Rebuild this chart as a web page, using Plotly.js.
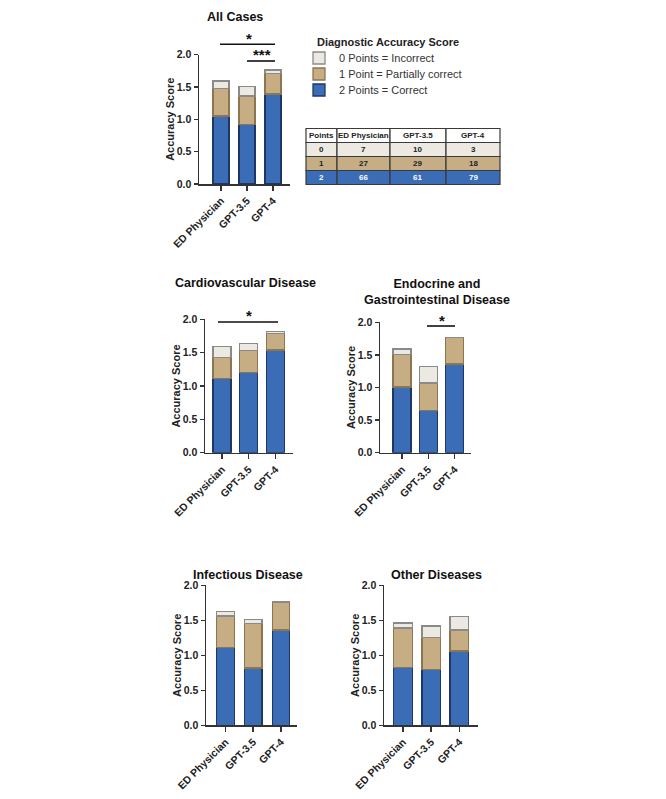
<!DOCTYPE html>
<html>
<head>
<meta charset="utf-8">
<script src="https://cdn.plot.ly/plotly-3.0.1.min.js"></script>
<style>body{margin:0;background:#fff}</style>
</head>
<body>
<div id="divPlot" style="width:666px;height:799px"></div>
<script>
// groups on every x axis
const categories = ['ED Physician', 'GPT-3.5', 'GPT-4'];
const panelTitles = ['All Cases', 'Cardiovascular Disease', 'Endocrine and<br>Gastrointestinal Disease',
                     'Infectious Disease', 'Other Diseases'];

// stacked segments per panel: [ED Physician, GPT-3.5, GPT-4]
const correct = [[1.05, 0.92, 1.39], [1.11, 1.20, 1.54], [1.01, 0.65, 1.36], [1.11, 0.82, 1.36], [0.83, 0.80, 1.06]];
const partial = [[0.43, 0.44, 0.32], [0.32, 0.33, 0.25], [0.50, 0.42, 0.41], [0.45, 0.63, 0.40], [0.56, 0.45, 0.30]];
const incorrect = [[0.11, 0.15, 0.05], [0.16, 0.11, 0.03], [0.08, 0.25, 0.00], [0.07, 0.06, 0.00], [0.07, 0.17, 0.19]];

// counts table (All Cases)
const tableHeader = ['Points', 'ED Physician', 'GPT-3.5', 'GPT-4'];
const tablePoints = ['0', '1', '2'];
const tableED = [7, 27, 66];
const tableGPT35 = [10, 29, 61];
const tableGPT4 = [3, 18, 79];

const W = 666, H = 799;
const FONT = 'Liberation Sans, Arial, sans-serif';
const BLUE = '#3b6cb6', TAN = '#c6ad84', LIGHT = '#ece9e2';

// pixel geometry of each panel: y-axis x, x-axis end, y of 2.0, y of 0, first bar centre, bar step, bar width
const geo = [
  {x0 : 199, x1 : 290, top : 54.5, bot : 184, c0 : 221, step : 26, w : 0.62, tx : 235, ty : 17},
  {x0 : 205, x1 : 293, top : 319.3, bot : 452.7, c0 : 222, step : 26.7, w : 0.67, tx : 245, ty : 283},
  {x0 : 380, x1 : 471, top : 322.3, bot : 452.7, c0 : 402, step : 26.3, w : 0.68, tx : 437, ty : 292},
  {x0 : 206, x1 : 297, top : 585.3, bot : 725.3, c0 : 225.5, step : 27.7, w : 0.63, tx : 248, ty : 575},
  {x0 : 384, x1 : 478, top : 585.3, bot : 725.3, c0 : 403, step : 28.2, w : 0.66, tx : 436, ty : 575},
];

const px = v => v / W;
const py = v => 1 - v / H;

const data = [];
const legendBox = {
  x : px(299), xanchor : 'left', yanchor : 'middle',
  font : {size : 11, color : '#333'}, bgcolor : 'rgba(0,0,0,0)', borderwidth : 0
};
const layout = {
  width : W,
  height : H,
  margin : {l : 0, r : 0, t : 0, b : 0},
  paper_bgcolor : '#fff',
  plot_bgcolor : 'rgba(0,0,0,0)',
  barmode : 'stack',
  font : {family : FONT, color : '#222'},
  showlegend : true,
  legend : Object.assign({y : py(90)}, legendBox),
  legend2 : Object.assign({y : py(74)}, legendBox),
  legend3 : Object.assign({y : py(58)}, legendBox),
  annotations : [{
    text : 'Diagnostic Accuracy Score', xref : 'paper', yref : 'paper', x : px(315), y : py(42),
    xanchor : 'left', yanchor : 'middle', showarrow : false,
    font : {size : 11, weight : 'bold', color : '#222'}
  }],
  shapes : []
};

geo.forEach((g, i) => {
  const n = i === 0 ? '' : String(i + 1);
  const xa = 'x' + n, ya = 'y' + n;
  const segs = [
    {y : correct[i], color : BLUE, line : '#1d3866', name : '2 Points = Correct', lg : 'legend'},
    {y : partial[i], color : TAN, line : '#8c7650', name : '1 Point = Partially correct', lg : 'legend2'},
    {y : incorrect[i], color : LIGHT, line : '#8a8a8a', name : '0 Points = Incorrect', lg : 'legend3'},
  ];
  segs.forEach(s => {
    data.push({
      type : 'bar',
      x : categories,
      y : s.y,
      xaxis : xa,
      yaxis : ya,
      width : g.w,
      name : s.name,
      legend : s.lg,
      showlegend : i === 0,
      marker : {color : s.color, line : {color : s.line, width : 1.3}},
      hoverinfo : 'skip'
    });
  });

  layout['xaxis' + n] = {
    domain : [px(g.x0), px(g.x1)],
    anchor : ya,
    range : [(g.x0 - g.c0) / g.step, (g.x1 - g.c0) / g.step],
    type : 'category',
    showline : true, linecolor : '#333', linewidth : 1.5,
    ticks : 'outside', ticklen : 5, tickwidth : 1.5, tickcolor : '#333',
    tickangle : -45,
    tickfont : {size : 10.5, weight : 'bold', color : '#222'},
    showgrid : false, zeroline : false, fixedrange : true
  };
  layout['yaxis' + n] = {
    domain : [py(g.bot), py(g.top)],
    anchor : xa,
    range : [0, 2],
    tickvals : [0, 0.5, 1, 1.5, 2],
    ticktext : ['0.0', '0.5', '1.0', '1.5', '2.0'],
    showline : true, linecolor : '#333', linewidth : 1.5,
    ticks : 'outside', ticklen : 4, tickwidth : 1.5, tickcolor : '#333',
    tickfont : {size : 10.5, weight : 'bold', color : '#222'},
    title : {text : 'Accuracy Score', font : {size : 11, weight : 'bold', color : '#222'}, standoff : 0},
    showgrid : false, zeroline : false, fixedrange : true
  };

  layout.annotations.push({
    text : panelTitles[i], xref : 'paper', yref : 'paper', x : px(g.tx), y : py(g.ty),
    xanchor : 'center', yanchor : 'middle', showarrow : false,
    font : {size : 12.5, weight : 'bold', color : '#111'}
  });
});

// significance brackets
const sig = [
  {xa : 220, xb : 275, y : 44.3, label : '*', ly : 38},
  {xa : 247, xb : 275, y : 61, label : '***', ly : 54.5},
  {xa : 218, xb : 278, y : 322, label : '*', ly : 316},
  {xa : 427, xb : 455, y : 326, label : '*', ly : 320},
];
sig.forEach(s => {
  layout.shapes.push({type : 'line', xref : 'paper', yref : 'paper', x0 : px(s.xa), x1 : px(s.xb),
                      y0 : py(s.y), y1 : py(s.y), line : {color : '#111', width : 1.6}});
  layout.annotations.push({text : s.label, xref : 'paper', yref : 'paper', x : px((s.xa + s.xb) / 2 + 1),
                           y : py(s.ly), xanchor : 'center', yanchor : 'middle', showarrow : false,
                           font : {size : 15, weight : 'bold', color : '#111'}});
});

// table of counts, drawn as cells
const colEdges = [306, 337, 390, 446, 500];
const rowEdges = [128.5, 142.5, 156.5, 170.5, 184.5];
const rowFill = ['#fff', LIGHT, TAN, BLUE];
const rowFont = ['#222', '#222', '#222', '#fff'];
const tableCols = [tablePoints, tableED, tableGPT35, tableGPT4];
for (let r = 0; r < 4; r++) {
  for (let c = 0; c < 4; c++) {
    const txt = r === 0 ? tableHeader[c] : String(tableCols[c][r - 1]);
    layout.shapes.push({type : 'rect', xref : 'paper', yref : 'paper', layer : 'below',
                        x0 : px(colEdges[c]), x1 : px(colEdges[c + 1]), y0 : py(rowEdges[r + 1]), y1 : py(rowEdges[r]),
                        fillcolor : rowFill[r], line : {color : '#3a3a3a', width : 1.2}});
    layout.annotations.push({text : txt, xref : 'paper', yref : 'paper',
                             x : px((colEdges[c] + colEdges[c + 1]) / 2), y : py((rowEdges[r] + rowEdges[r + 1]) / 2),
                             xanchor : 'center', yanchor : 'middle', showarrow : false,
                             font : {size : 8, weight : 'bold', color : rowFont[r]}});
  }
}

Plotly.newPlot('divPlot', data, layout, {displayModeBar : false, staticPlot : true});
</script>
</body>
</html>
